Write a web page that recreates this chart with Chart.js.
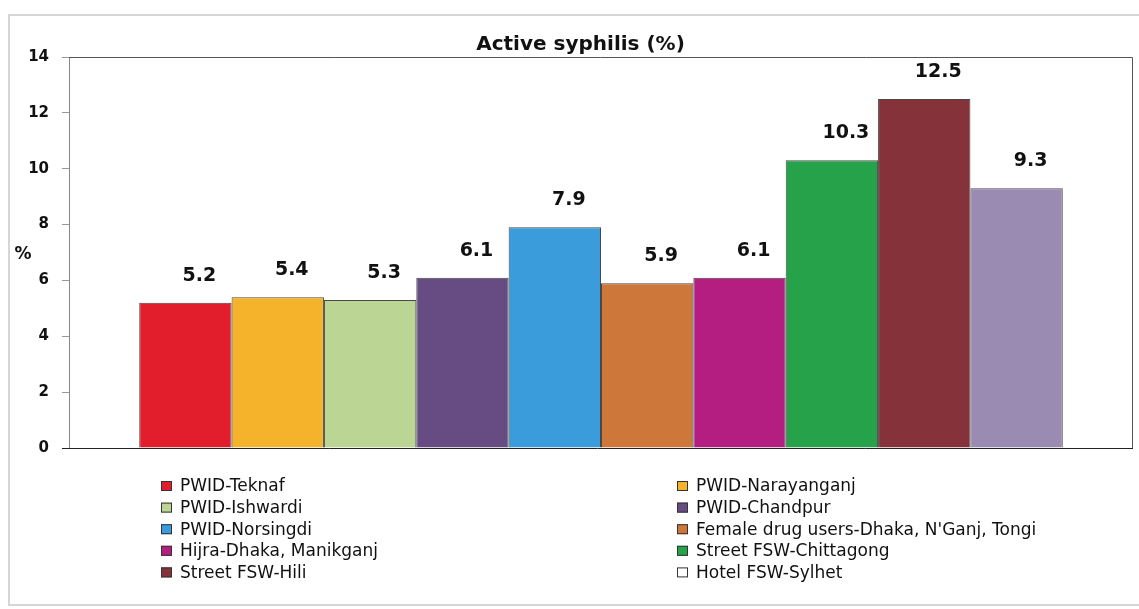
<!DOCTYPE html>
<html>
<head>
<meta charset="utf-8">
<script src="https://cdn.jsdelivr.net/npm/chart.js@4.4.0/dist/chart.umd.min.js"></script>
<style>
    html, body { margin: 0; padding: 0; background: #fff; }
    .frame {
        position: absolute; left: 8px; top: 14px;
        width: 1131px; height: 592px;
        box-sizing: border-box;
        border: 2px solid #d6d6d6; border-right: none;
    }
    .box { position: relative; width: 100%; height: 100%; }
</style>
</head>
<body>
<div class="frame"><div class="box"><canvas id="syphilis"></canvas></div></div>
<script>
// groups, left to right
const groups = [
    "PWID-Teknaf",
    "PWID-Narayanganj",
    "PWID-Ishwardi",
    "PWID-Chandpur",
    "PWID-Norsingdi",
    "Female drug users-Dhaka, N'Ganj, Tongi",
    "Hijra-Dhaka, Manikganj",
    "Street FSW-Chittagong",
    "Street FSW-Hili",
    "Hotel FSW-Sylhet",
];
const activeSyphilis = [5.2, 5.4, 5.3, 6.1, 7.9, 5.9, 6.1, 10.3, 12.5, 9.3];
const barColors = [
    "#E21E2D", "#F5B22B", "#BAD594", "#674C83", "#3A9CDB",
    "#CD773B", "#B31E80", "#26A24A", "#86323A", "#9A8BB2",
];
// legend swatches (last one is blank in the original)
const swatchColors = barColors.slice(0, 9).concat(["#FFFFFF"]);
const yMin = 0, yMax = 14, yStep = 2;

const FONT = "'DejaVu Sans', Verdana, sans-serif";

// value labels above bars
const valueLabels = {
    id: "valueLabels",
    afterDatasetsDraw(chart) {
        const c = chart.ctx;
        c.save();
        c.font = "bold 19px " + FONT;
        c.fillStyle = "#111";
        c.textAlign = "center";
        c.textBaseline = "middle";
        chart.data.datasets.forEach((ds, i) => {
            const bar = chart.getDatasetMeta(i).data[0];
            c.fillText(ds.data[0].toFixed(1), bar.x + 14, bar.y - 27);
        });
        c.restore();
    },
};

// frame round the plot, "%" label and two column legend
const extras = {
    id: "extras",
    afterDraw(chart) {
        const c = chart.ctx;
        const a = chart.chartArea;
        c.save();
        c.lineWidth = 1;
        c.strokeStyle = "#555";
        c.beginPath();
        c.moveTo(a.left, a.top + 0.5);
        c.lineTo(a.right - 0.5, a.top + 0.5);
        c.lineTo(a.right - 0.5, a.bottom);
        c.stroke();
        c.strokeStyle = "#222";
        c.beginPath();
        c.moveTo(a.left - 7, a.bottom + 0.5);
        c.lineTo(a.right, a.bottom + 0.5);
        c.stroke();

        c.font = "bold 17px " + FONT;
        c.fillStyle = "#111";
        c.textAlign = "center";
        c.textBaseline = "middle";
        c.fillText("%", 13, 239);

        c.font = "17px " + FONT;
        c.textAlign = "left";
        const cols = [151, 667];
        const top = 470, rowH = 21.6;
        chart.data.datasets.forEach((ds, i) => {
            const x = cols[i % 2];
            const y = top + Math.floor(i / 2) * rowH;
            c.fillStyle = swatchColors[i];
            c.fillRect(x, y - 5, 11, 10);
            c.strokeStyle = "#333";
            c.strokeRect(x + 0.5, y - 4.5, 10, 9);
            c.fillStyle = "#111";
            c.fillText(ds.label, x + 19, y + 1);
        });
        c.restore();
    },
};

new Chart(document.getElementById("syphilis"), {
    type: "bar",
    data: {
        labels: ["Active syphilis"],
        datasets: groups.map((g, i) => ({
            label: g,
            data: [activeSyphilis[i]],
            backgroundColor: barColors[i],
            borderColor: "rgba(40,40,40,0.85)",
            borderWidth: 1,
            categoryPercentage: 0.868,
            barPercentage: 1,
        })),
    },
    options: {
        responsive: true,
        maintainAspectRatio: false,
        animation: false,
        layout: {
            padding: { left: 18, right: 6, top: 0, bottom: 156 },
        },
        scales: {
            x: {
                display: false,
            },
            y: {
                min: yMin,
                max: yMax,
                afterFit(scale) {
                    scale.width = 41;
                },
                ticks: {
                    stepSize: yStep,
                    padding: 13,
                    color: "#111",
                    font: { family: FONT, size: 15, weight: "bold" },
                },
                grid: {
                    drawOnChartArea: false,
                    drawTicks: true,
                    tickLength: 7,
                    color: "#999",
                },
                border: {
                    color: "#888",
                },
            },
        },
        plugins: {
            legend: {
                display: false,
            },
            tooltip: {
                enabled: false,
            },
            title: {
                display: true,
                text: "Active syphilis (%)",
                color: "#111",
                font: { family: FONT, size: 20, weight: "bold" },
                padding: { top: 17, bottom: 0 },
            },
        },
    },
    plugins: [valueLabels, extras],
});
</script>
</body>
</html>
